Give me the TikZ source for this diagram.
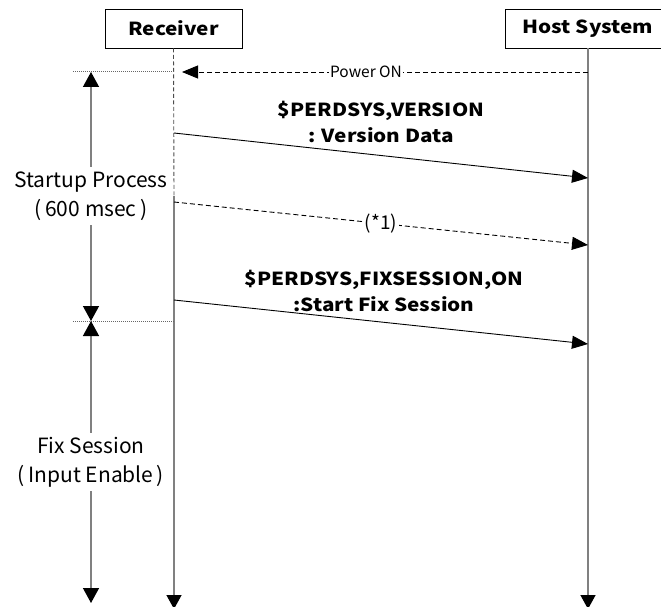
\documentclass[tikz,border=0pt]{standalone}
\usepackage{fontspec}
\setmainfont{Noto Sans CJK JP}
\newfontfamily\msgfont{Noto Sans CJK JP}[FakeStretch=1.15]
\usetikzlibrary{arrows.meta}

\begin{document}
\begin{tikzpicture}[x=1pt, y=-1pt,
    every node/.style={inner sep=0pt},
    actor/.style={draw, line width=0.8pt, minimum height=39pt,
      font=\msgfont\fontsize{18}{20}\selectfont\bfseries},
    life/.style={draw=gray, line width=1.4pt,
      -{Triangle[length=14pt,width=15pt,color=black]}},
    msg/.style={line width=0.9pt, -{Triangle[length=16pt,width=13pt]}},
    msglabel/.style={align=center, font=\msgfont\fontsize{18}{26}\selectfont\bfseries},
    span/.style={draw=gray, line width=1.4pt,
      -{Triangle[length=15pt,width=16pt,color=black]}},
    spanlabel/.style={align=center, minimum height=58pt,
      font=\fontsize{21}{29}\selectfont},
    guide/.style={black!60, line width=1pt, densely dotted},
  ]
  \clip (0,0) rectangle (661,607);

  % Actors
  \node[actor, minimum width=137pt] (rcv)  at (173.5,28.5) {Receiver};
  \node[actor, minimum width=166pt] (host) at (588,28.5)   {Host System};

  % Lifelines
  \coordinate (rcvmid)  at (174,196);
  \coordinate (rcvend)  at (174,609);
  \coordinate (hostend) at (588,609);
  \draw[black!70, line width=0.9pt, dash pattern=on 4pt off 2.5pt] (rcv.south) -- (rcvmid);
  \draw[life] (rcvmid) -- (rcvend);
  \draw[life] (host.south) -- (hostend);

  % Power ON
  \coordinate (pwrH) at (588,72);
  \coordinate (pwrR) at (174,72);
  \draw[msg, dash pattern=on 5pt off 3pt, shorten >=8pt] (pwrH) -- (pwrR);
  \node[fill=white, inner xsep=1.5pt, font=\fontsize{15.5}{18}\selectfont] (pwr) at (366,72) {Power ON};

  % Version query
  \coordinate (v1) at (174,133);
  \coordinate (v2) at (588,178);
  \draw[msg] (v1) -- (v2);
  \node[msglabel] (vlbl) at (381,121.5) {\$PERDSYS,VERSION\\: Version Data};

  % (*1)
  \coordinate (a1) at (174,202);
  \coordinate (a2) at (588,245);
  \draw[msg, dash pattern=on 5pt off 3pt] (a1) -- (a2);
  \node[fill=white, inner xsep=1.5pt, font=\fontsize{19}{22}\selectfont] (note) at (381,223.5) {(*1)};

  % Fix session start
  \coordinate (f1) at (174,300);
  \coordinate (f2) at (588,344);
  \draw[msg] (f1) -- (f2);
  \node[msglabel] (flbl) at (384,291) {\$PERDSYS,FIXSESSION,ON\\:Start Fix Session};

  % Phase guides
  \coordinate (g1) at (73,72);
  \coordinate (g2) at (73,321);
  \coordinate (r2) at (174,321);
  \draw[guide] (g1) -- (pwrR);
  \draw[guide] (g2) -- (r2);

  % Phase spans
  \coordinate (s0) at (91,72);
  \coordinate (s1) at (91,321);
  \coordinate (s2) at (91,603);
  \node[spanlabel] (sup) at (91,196) {Startup Process\\(\,600 msec\,)};
  \draw[span] (sup.north) -- (s0);
  \draw[span] (sup.south) -- (s1);
  \node[spanlabel] (fix) at (91,462) {Fix Session\\(\,Input Enable\,)};
  \draw[span] (fix.north) -- (s1);
  \draw[span] (fix.south) -- (s2);
\end{tikzpicture}
\end{document}
